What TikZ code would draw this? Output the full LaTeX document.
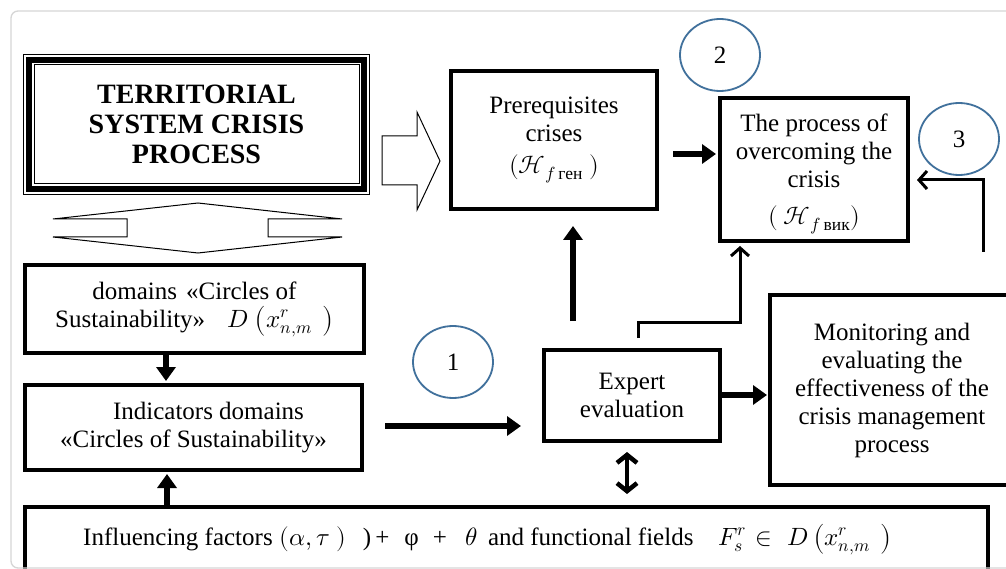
\documentclass[tikz,border=0pt]{standalone}
\usepackage{fontspec}
\usepackage{unicode-math}
\setmainfont{Liberation Serif}
\usetikzlibrary{arrows.meta,shapes.geometric,calc}
\definecolor{circblue}{HTML}{41719C}
\definecolor{framegray}{HTML}{D6D6D6}
\begin{document}
\begin{tikzpicture}[x=1pt,y=-1pt,
 box/.style={draw, line width=4pt, align=center, inner sep=0pt, font=\fontsize{25}{28}\selectfont},
 txt/.style={inner sep=0pt, font=\fontsize{25}{28}\selectfont},
 numc/.style={draw=circblue, line width=1.8pt, ellipse, minimum width=80pt, minimum height=72pt, inner sep=0pt, font=\fontsize{25}{28}\selectfont},
 thickarr/.style={line width=5.5pt, -{Triangle[length=14pt,width=19pt]}},
 medarr/.style={line width=3pt, -{Straight Barb[length=8pt,width=18pt]}},
 dblarr/.style={line width=4.5pt, {Straight Barb[length=8pt,width=20pt]}-{Straight Barb[length=8pt,width=20pt]}},
 blockarr/.style={draw, line width=1pt, line join=miter, fill=white}
]
\useasboundingbox (0,0) rectangle (1006,569);
\fill[white] (0,0) rectangle (1006,569);
\begin{scope}
\clip (0,0) rectangle (1006,569);
% title box with triple border
\node[draw, line width=1pt, minimum width=346pt, minimum height=140pt, inner sep=0pt, align=center,
      font=\fontsize{28}{30}\selectfont\bfseries] (title) at (196.5,124.5)
      {TERRITORIAL\\SYSTEM CRISIS\\PROCESS};
\draw[line width=5.5pt] ($(title.north west)+(6,6)$) rectangle ($(title.south east)+(-6,-6)$);
\draw[line width=1pt] ($(title.north west)+(11,11)$) rectangle ($(title.south east)+(-11,-11)$);

% boxes
\node[box, minimum width=206pt, minimum height=138pt] (prereq) at (554,140)
  {Prerequisites\\crises\\[4pt]$(\mathcal{H}_{f\,\text{ген}}\ )$};
\node[box, minimum width=188pt, minimum height=143pt] (over) at (814,169.5)
  {\rule{0pt}{27pt}The process of\\overcoming the\\crisis\\[9pt]$(\ \mathcal{H}_{f\,\text{вик}})$};
\node[box, minimum width=176pt, minimum height=91pt] (expert) at (632,395.5)
  {Expert\\evaluation};
\node[box, minimum width=244pt, minimum height=190pt] (monit) at (892,390)
  {Monitoring and\\evaluating the\\effectiveness of the\\crisis management\\process};
\node[box, minimum width=339pt, minimum height=88pt] (domains) at (194.5,309)
  {domains\hspace{9pt}«Circles of\\Sustainability»\hspace{22pt}$D$\hspace{7pt}$\left(x^{r}_{n,m}\ \,\right)$};
\node[box, minimum width=337pt, minimum height=85pt] (indic) at (193.5,427.5)
  {\hspace*{30pt}Indicators domains\\«Circles of Sustainability»};
\node[box, minimum width=963pt, minimum height=80pt] (bottom) at (506.5,547) {};
\node[txt, anchor=base west] (btext) at (83,545)
  {Influencing factors\hspace{7pt}$(\alpha,\tau\ )$\hspace{17pt})\hspace{4pt}+\hspace{15pt}φ\hspace{14pt}+\hspace{19pt}$\theta$\hspace{10pt}and functional fields\hspace{25pt}$F_{s}^{r}$\hspace{9pt}$\in$\hspace{15pt}$D$\hspace{5pt}$\left(x^{r}_{n,m}\ \,\right)$};

% numbered circles
\node[numc] (c1) at (453,362) {1};
\node[numc] (c2) at (720,55) {2};
\node[numc] (c3) at (959,139) {3};

% block arrow to prerequisites
\draw[blockarr] (382,136) -- (417,136) -- (417,112) -- (440,161) -- (417,210) -- (417,185) -- (382,185) -- cycle;
% double chevron shape under title
\draw[blockarr] (53,219) -- (198,203) -- (342,219) -- (268,219) -- (268,237) -- (342,237)
  -- (198,253) -- (53,237) -- (127,237) -- (127,219) -- cycle;

% connectors
\coordinate (pa) at ($(prereq.east)+(0,14)$);
\draw[thickarr, shorten <=14pt, shorten >=2pt] (pa) -- (pa -| over.west);

\coordinate (dx) at (166,0);
\draw[thickarr, shorten >=2pt] (domains.south -| dx) -- (indic.north -| dx);
\coordinate (bx) at (167,0);
\draw[thickarr, shorten >=2pt] (bottom.north -| bx) -- (indic.south -| bx);

\coordinate (ia) at (0,426);
\draw[thickarr, shorten <=21pt, shorten >=21pt] (indic.east |- ia) -- (expert.west |- ia);
\coordinate (ea) at (0,395);
\draw[thickarr, shorten >=1pt] (expert.east |- ea) -- (monit.west |- ea);

\coordinate (ux) at (573,0);
\draw[thickarr, shorten <=27pt, shorten >=15pt] (expert.north -| ux) -- (prereq.south -| ux);

\coordinate (e1) at (638,338);
\coordinate (ov) at (740,322);
\draw[medarr, shorten >=3pt] (e1) |- (ov) -- (ov |- over.south);

\coordinate (r1) at (983,252);
\coordinate (r2) at (983,180);
\draw[medarr, shorten >=7pt] (r1) -- (r2) -- (r2 -| over.east);

\coordinate (dd) at (627,0);
\draw[dblarr, shorten <=9pt, shorten >=11pt] (expert.south -| dd) -- (bottom.north -| dd);

% outer frame
\draw[framegray, line width=1.3pt, rounded corners=7pt] (11,11) rectangle (1040,568);
\end{scope}
\end{tikzpicture}
\end{document}
